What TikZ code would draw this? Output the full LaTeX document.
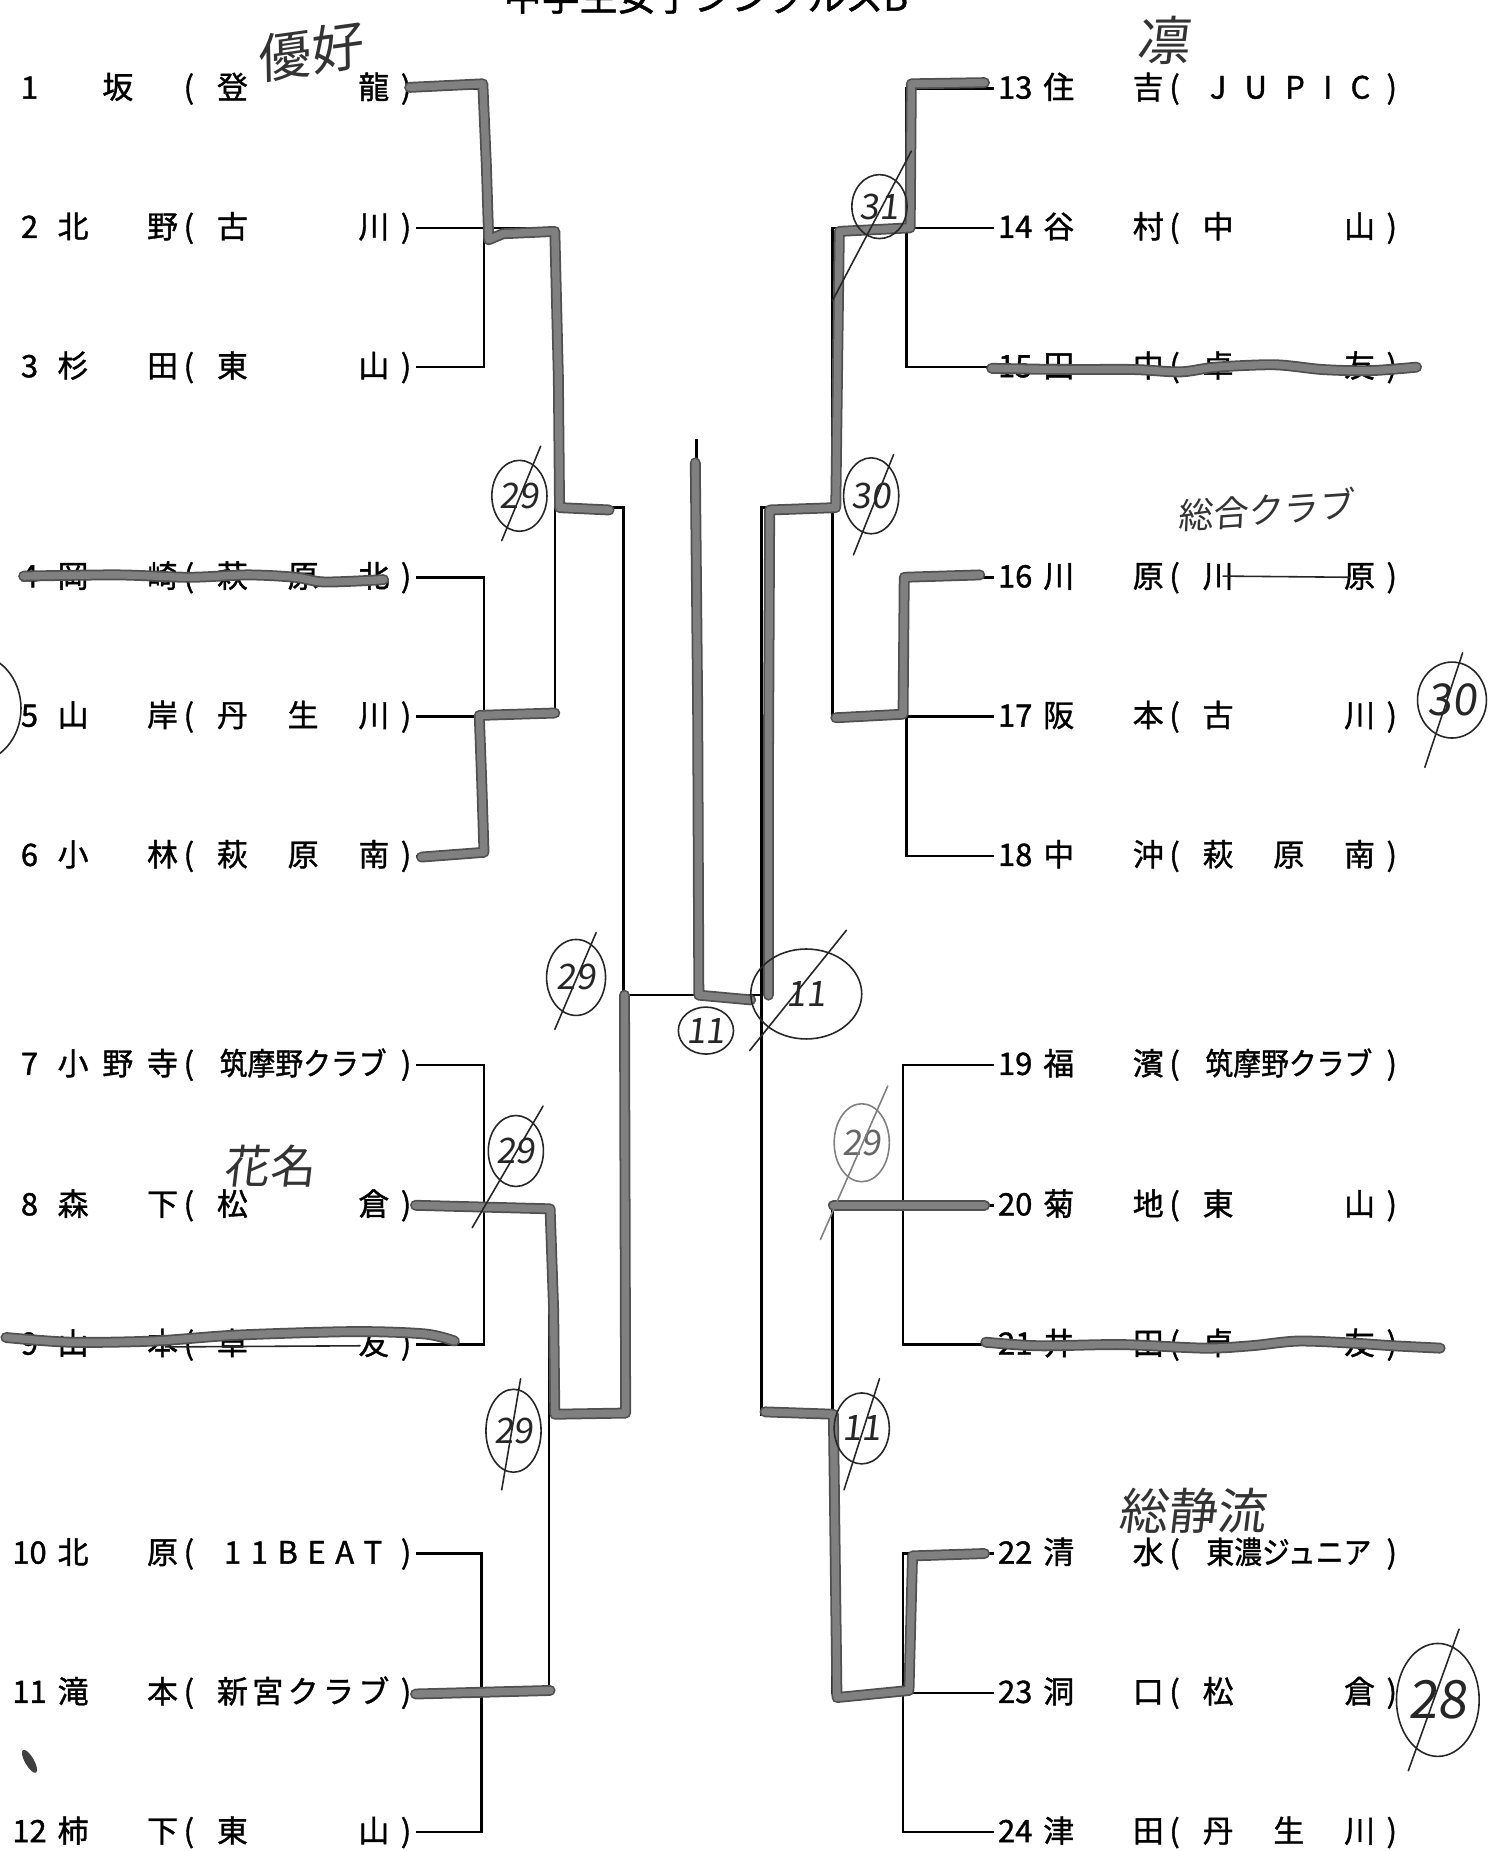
\documentclass[tikz,border=0pt]{standalone}
\usepackage{fontspec}
\setmainfont[FakeBold=1.2]{Noto Sans CJK JP}
\newfontfamily\handfont[FakeSlant=0.12]{Noto Sans CJK JP}
\usetikzlibrary{shapes.geometric, positioning, calc}
\definecolor{MarkGray}{RGB}{128,128,128}
\definecolor{MarkEdge}{RGB}{80,80,80}
\newlength{\unitpx}
\setlength{\unitpx}{0.1181mm}
\newcommand{\entryfont}{\fontsize{8.8pt}{9.5pt}\selectfont}
\newcommand{\handsize}[1]{\handfont\fontsize{#1}{#1}\selectfont}
\newcommand{\tight}[1]{\hfill\scalebox{0.9}[1]{#1}\hfill}

% one line of the draw: id, x of number, y, number, name, club
\newcommand{\player}[6]{%
  \node[txt] (num#1) at (#2,#3) {#4};
  \node[txt, anchor=west] (nm#1) at (#2+20,#3) {\makebox[102\unitpx][l]{#5}};
  \node[txt] (lp#1) at (#2+135,#3) {(};
  \node[txt, anchor=west] (cl#1) at (#2+155,#3) {\makebox[146\unitpx][l]{#6}};
  \node[txt] (rp#1) at (#2+319,#3) {)};
}

\begin{document}
\begin{tikzpicture}[
    x=0.1181mm, y=-0.1181mm,
    every node/.style={inner sep=0pt},
    txt/.style={font=\entryfont, text height=2.4mm, text depth=0.38mm, outer xsep=0.45mm},
    wire/.style={draw=black, line width=0.75pt},
    marker/.style={draw=MarkEdge, line width=0.5pt, double=MarkGray, double distance=2.1pt, line cap=round, line join=round},
    pen/.style={draw=black!85, line width=0.45pt, line cap=round},
    circnum/.style={ellipse, draw=black!85, line width=0.45pt, text=black!85, font=\handsize{10pt}},
    hand/.style={text=black!80, font=\handsize{15pt}}
  ]
    \fill[white] (0,0) rectangle (1260,1568);
    \useasboundingbox (0,0) rectangle (1260,1568);

    % Title (cut by the sheet edge)
    \node[font=\fontsize{10.8pt}{12pt}\selectfont, anchor=base] (title) at (598,9) {中学生女子シングルスB};

    % Left half
    \player{1}{25}{75}{1}{\hfill 坂\hfill}{登\hfill 龍}
    \player{2}{25}{193}{2}{北\hfill 野}{古\hfill 川}
    \player{3}{25}{311}{3}{杉\hfill 田}{東\hfill 山}
    \player{4}{25}{489}{4}{岡\hfill 崎}{萩\hfill 原\hfill 北}
    \player{5}{25}{607}{5}{山\hfill 岸}{丹\hfill 生\hfill 川}
    \player{6}{25}{725}{6}{小\hfill 林}{萩\hfill 原\hfill 南}
    \player{7}{25}{902}{7}{小\hfill 野\hfill 寺}{\tight{筑摩野クラブ}}
    \player{8}{25}{1021}{8}{森\hfill 下}{松\hfill 倉}
    \player{9}{25}{1139}{9}{山\hfill 本}{卓\hfill 友}
    \player{10}{25}{1316}{10}{北\hfill 原}{\hspace{6\unitpx}1\hfill 1\hfill B\hfill E\hfill A\hfill T\hspace{6\unitpx}}
    \player{11}{25}{1434}{11}{滝\hfill 本}{新\hfill 宮\hfill ク\hfill ラ\hfill ブ}
    \player{12}{25}{1552}{12}{柿\hfill 下}{東\hfill 山}

    % Right half
    \player{13}{860}{75}{13}{住\hfill 吉}{\hspace{6\unitpx}J\hfill U\hfill P\hfill I\hfill C\hspace{4\unitpx}}
    \player{14}{860}{193}{14}{谷\hfill 村}{中\hfill 山}
    \player{15}{860}{311}{15}{田\hfill 中}{卓\hfill 友}
    \player{16}{860}{489}{16}{川\hfill 原}{川\hfill 原}
    \player{17}{860}{607}{17}{阪\hfill 本}{古\hfill 川}
    \player{18}{860}{725}{18}{中\hfill 沖}{萩\hfill 原\hfill 南}
    \player{19}{860}{902}{19}{福\hfill 濱}{\tight{筑摩野クラブ}}
    \player{20}{860}{1021}{20}{菊\hfill 地}{東\hfill 山}
    \player{21}{860}{1139}{21}{井\hfill 田}{卓\hfill 友}
    \player{22}{860}{1316}{22}{清\hfill 水}{\tight{東濃ジュニア}}
    \player{23}{860}{1434}{23}{洞\hfill 口}{松\hfill 倉}
    \player{24}{860}{1552}{24}{津\hfill 田}{丹\hfill 生\hfill 川}

    % Bracket levels
    \coordinate (La) at (410,0);
    \coordinate (Laa) at (408,0);
    \coordinate (Lb) at (470,0);
    \coordinate (Lbb) at (465,0);
    \coordinate (Lc) at (528,0);
    \coordinate (Ra) at (768,0);
    \coordinate (Raa) at (765,0);
    \coordinate (Rb) at (705,0);
    \coordinate (Rc) at (645,0);
    \coordinate (semiL1) at (470,430);
    \coordinate (semiL2) at (465,1198);
    \coordinate (semiR1) at (705,430);
    \coordinate (semiR2) at (705,1198);
    \coordinate (finL) at (528,843);
    \coordinate (finR) at (645,843);
    \coordinate (champ) at (590,843);
    \coordinate (champtop) at (590,372);

    % Connections, left
    \draw[wire] (rp1.east) -| (rp3.east -| La) -- (rp3.east);
    \draw[wire] (rp2.east) -| (rp5.east -| Lb) -- (rp5.east);
    \draw[wire] (rp4.east) -| (rp6.east -| La) -- (rp6.east);
    \draw[wire] (rp7.east) -| (rp9.east -| La) -- (rp9.east);
    \draw[wire] (rp8.east) -| (rp11.east -| Lbb) -- (rp11.east);
    \draw[wire] (rp10.east) -| (rp12.east -| Laa) -- (rp12.east);
    \draw[wire] (semiL1) -| (semiL2 -| Lc) -- (semiL2);

    % Connections, right
    \draw[wire] (num13.west) -| (num15.west -| Ra) -- (num15.west);
    \draw[wire] (num14.west) -| (num17.west -| Rb) -- (num17.west);
    \draw[wire] (num16.west) -| (num18.west -| Ra) -- (num18.west);
    \draw[wire] (num19.west) -| (num21.west -| Raa) -- (num21.west);
    \draw[wire] (num20.west) -| (num23.west -| Rb) -- (num23.west);
    \draw[wire] (num22.west) -| (num24.west -| Raa) -- (num24.west);
    \draw[wire] (semiR1) -| (semiR2 -| Rc) -- (semiR2);

    % Final
    \draw[wire] (finL) -- (finR);
    \draw[wire] (champ) -- (champtop);

    % Marker: winners
    \draw[marker] (347,74) -- (409,71) -- (412,140) -- (414,203) -- (426,198) -- (470,196) -- (473,320) -- (474,430) -- (516,432);
    \draw[marker] (357,726) -- (410,722) -- (408,660) -- (406,606) -- (470,604);
    \draw[marker] (352,1021) -- (466,1024) -- (469,1110) -- (470,1198) -- (530,1197) -- (529,843);
    \draw[marker] (352,1435) -- (466,1432);
    \draw[marker] (589,392) -- (591,600) -- (592,843) -- (636,847);
    \draw[marker] (834,70) -- (772,71) -- (771,193) -- (711,196) -- (708,430) -- (652,432) -- (651,640) -- (651,843);
    \draw[marker] (830,487) -- (766,489) -- (765,605) -- (708,608);
    \draw[marker] (706,1021) -- (834,1021);
    \draw[marker] (648,1196) -- (706,1198) -- (709,1438) -- (770,1432) -- (773,1318) -- (834,1316);

    % Marker: withdrawn
    \draw[marker] plot[smooth] coordinates {(20,488) (100,487) (160,489) (210,487) (250,489) (275,493) (325,491)};
    \draw[marker] plot[smooth] coordinates {(5,1133) (60,1137) (130,1136) (200,1131) (300,1128) (360,1130) (385,1136)};
    \draw[marker] plot[smooth] coordinates {(840,312) (900,313) (960,313) (1000,315) (1030,311) (1080,309) (1120,313) (1160,314) (1200,311)};
    \draw[marker] plot[smooth] coordinates {(835,1137) (880,1140) (950,1139) (1020,1142) (1060,1140) (1100,1136) (1150,1138) (1180,1140) (1220,1142)};
    \draw[pen] (140,1141) -- (305,1140);
    \draw[pen] (1036,488) -- (1143,489);

    % Scores
    \node[circnum, minimum width=5.2mm, minimum height=7.1mm] (c1) at (440,420) {29};
    \draw[pen] ([shift={(-15,38)}]c1.center) -- ([shift={(18,-42)}]c1.center);
    \node[circnum, minimum width=5.9mm, minimum height=7.6mm] (c2) at (488,828) {29};
    \draw[pen] ([shift={(-18,44)}]c2.center) -- ([shift={(17,-38)}]c2.center);
    \node[circnum, minimum width=4.7mm, minimum height=7.1mm] (c3) at (437,975) {29};
    \draw[pen] ([shift={(-37,65)}]c3.center) -- ([shift={(23,-38)}]c3.center);
    \node[circnum, minimum width=4.7mm, minimum height=8.3mm] (c4) at (435,1212) {29};
    \draw[pen] ([shift={(-10,50)}]c4.center) -- ([shift={(6,-44)}]c4.center);
    \node[circnum, minimum width=5.2mm, minimum height=4.7mm] (c5) at (598,873) {11};
    \node[circnum, minimum width=11.1mm, minimum height=9mm] (c6) at (683,842) {11};
    \draw[pen] ([shift={(-48,48)}]c6.center) -- ([shift={(34,-54)}]c6.center);
    \node[circnum, minimum width=5.2mm, minimum height=6.4mm] (c7) at (745,175) {31};
    \draw[pen] ([shift={(-40,80)}]c7.center) -- ([shift={(27,-47)}]c7.center);
    \node[circnum, minimum width=5.2mm, minimum height=7.6mm] (c8) at (738,420) {30};
    \draw[pen] ([shift={(-15,50)}]c8.center) -- ([shift={(19,-35)}]c8.center);
    \node[circnum, draw=black!50, text=black!60, minimum width=5.2mm, minimum height=7.8mm] (c9) at (730,968) {29};
    \draw[pen, draw=black!50] ([shift={(-35,82)}]c9.center) -- ([shift={(22,-48)}]c9.center);
    \node[circnum, minimum width=4.7mm, minimum height=7.1mm] (c10) at (730,1210) {11};
    \draw[pen] ([shift={(-15,52)}]c10.center) -- ([shift={(15,-42)}]c10.center);
    \node[circnum, font=\handsize{12.5pt}, minimum width=6.6mm, minimum height=7.6mm] (c11) at (1230,593) {30};
    \draw[pen] ([shift={(-23,57)}]c11.center) -- ([shift={(9,-40)}]c11.center);
    \node[circnum, font=\handsize{15pt}, minimum width=7.4mm, minimum height=11.3mm] (c12) at (1218,1440) {28};
    \draw[pen] ([shift={(-25,60)}]c12.center) -- ([shift={(18,-60)}]c12.center);

    % Handwritten notes
    \node[hand, rotate=8] (hw1) at (262,44) {優好};
    \node[hand] (hw2) at (985,34) {凛};
    \node[hand, font=\handsize{10pt}, rotate=4] (hw3) at (1072,432) {総合クラブ};
    \node[hand, font=\handsize{13pt}] (hw4) at (228,988) {花名};
    \node[hand, font=\handsize{14pt}] (hw5) at (1010,1280) {総静流};

    % Marks at the left edge
    \draw[pen] (-22,600) ellipse [x radius=4.7mm, y radius=5.4mm];
    \fill[black!75, rotate around={-60:(25,1492)}] (25,1492) ellipse [x radius=1.3mm, y radius=0.45mm];
  \end{tikzpicture}
\end{document}
